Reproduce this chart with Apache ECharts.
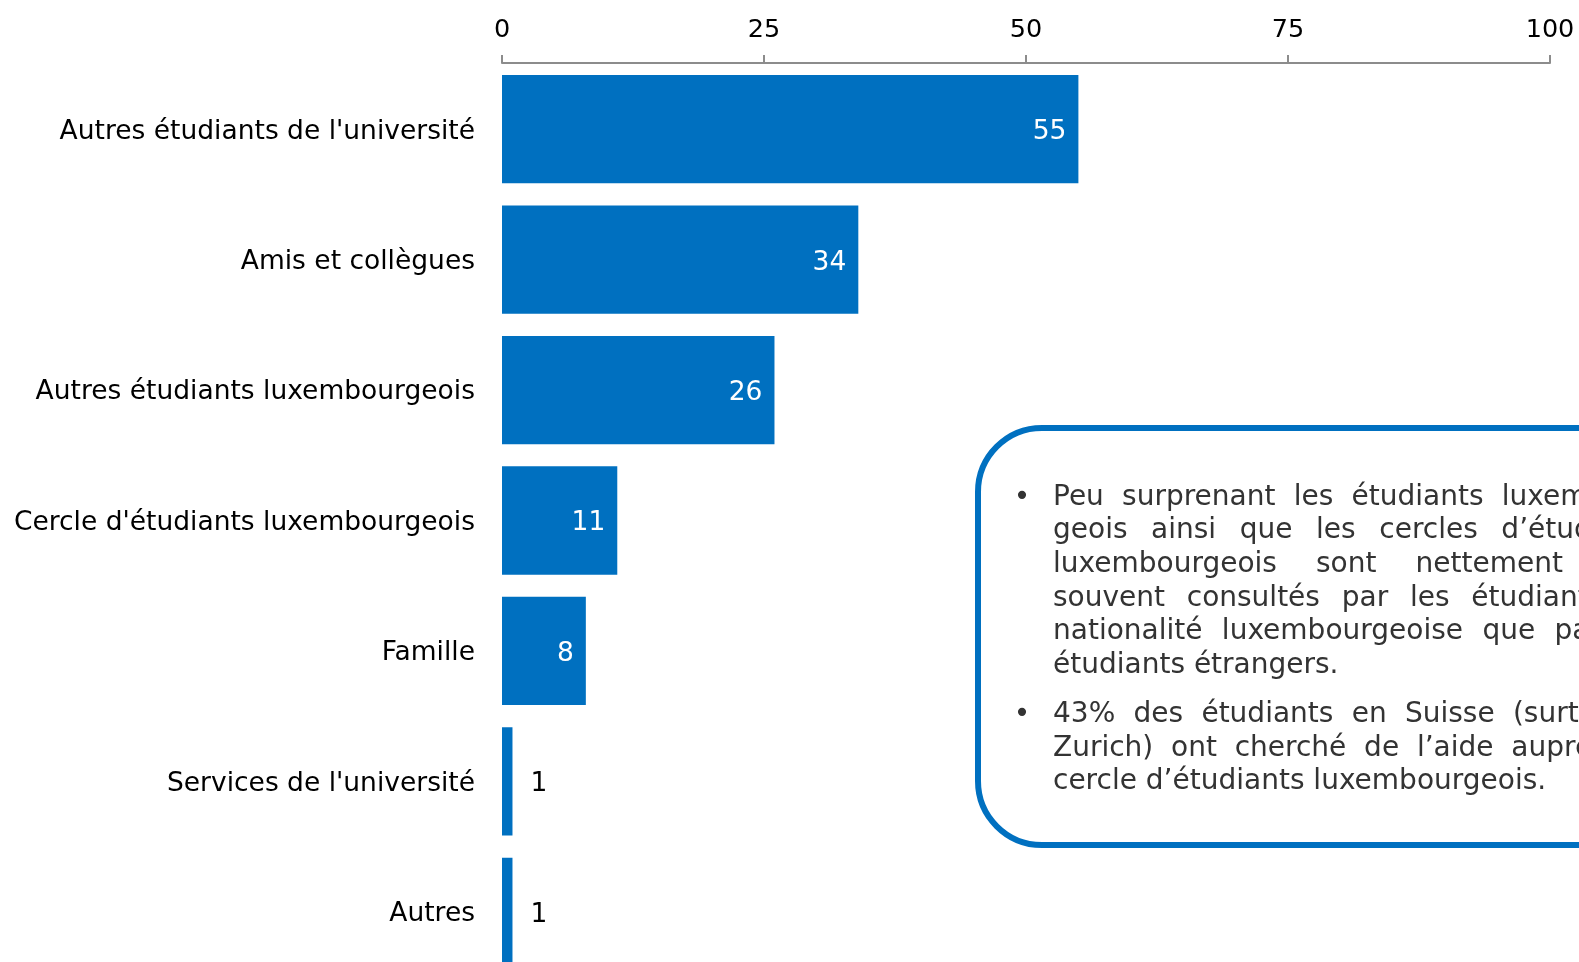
<!DOCTYPE html>
<html>
<head>
<meta charset="utf-8">
<style>
  html, body { margin: 0; padding: 0; background: #fff; }
  #chart { width: 1579px; height: 962px; }
</style>
<script src="https://cdn.jsdelivr.net/npm/echarts@6/dist/echarts.min.js"></script>
</head>
<body>
<div id="chart"></div>
<script>
const categories = [
  "Autres étudiants de l'université",
  'Amis et collègues',
  'Autres étudiants luxembourgeois',
  "Cercle d'étudiants luxembourgeois",
  'Famille',
  "Services de l'université",
  'Autres'
]
const values = [55, 34, 26, 11, 8, 1, 1]
const axisTicks = [0, 25, 50, 75, 100]

// note box, one entry per printed line, last line of each paragraph left as is
const noteParagraphs = [
  [
    'Peu surprenant les étudiants luxembour-',
    'geois ainsi que les cercles d’étudiants',
    'luxembourgeois sont nettement plus',
    'souvent consultés par les étudiants de',
    'nationalité luxembourgeoise que par les',
    'étudiants étrangers.'
  ],
  [
    '43% des étudiants en Suisse (surtout à',
    'Zurich) ont cherché de l’aide auprès du',
    'cercle d’étudiants luxembourgeois.'
  ]
]

const BLUE = '#0070C0'
const FONT = '"DejaVu Sans", Verdana, sans-serif'

const chart = echarts.init(document.getElementById('chart'))

// justified text for the note box
const noteFontSize = 28
const noteLeft = 1053
const noteWidth = 607
const lineGap = 33.6
const paraStarts = [497.5, 715]
const measure = document.createElement('canvas').getContext('2d')
measure.font = noteFontSize + 'px ' + FONT
const spaceW = measure.measureText(' ').width

const noteTexts = []
noteParagraphs.forEach((lines, p) => {
  noteTexts.push({
    type: 'text', x: 1022, y: paraStarts[p], z: 10,
    style: { text: '•', fontSize: noteFontSize, fontFamily: FONT, fill: '#333', align: 'center', verticalAlign: 'middle' }
  })
  lines.forEach((line, i) => {
    const y = paraStarts[p] + i * lineGap
    const words = line.split(' ')
    const widths = words.map(w => measure.measureText(w).width)
    const total = widths.reduce((a, b) => a + b, 0)
    const last = i === lines.length - 1
    const gap = last || words.length < 2 ? spaceW : (noteWidth - total) / (words.length - 1)
    let x = noteLeft
    words.forEach((w, k) => {
      noteTexts.push({
        type: 'text', x: x, y: y, z: 10,
        style: { text: w, fontSize: noteFontSize, fontFamily: FONT, fill: '#333', verticalAlign: 'middle' }
      })
      x += widths[k] + gap
    })
  })
})

const option = {
  animation: false,
  textStyle: { fontFamily: FONT },
  grid: { left: 502, right: 29, top: 64, bottom: -15, containLabel: false, outerBoundsMode: 'none' },
  xAxis: {
    type: 'value',
    position: 'top',
    min: axisTicks[0],
    max: axisTicks[axisTicks.length - 1],
    interval: axisTicks[1] - axisTicks[0],
    offset: 1,
    axisLine: { show: true, lineStyle: { color: '#8c8c8c', width: 2 } },
    axisTick: { show: true, length: 8, lineStyle: { color: '#8c8c8c', width: 2 } },
    splitLine: { show: false },
    axisLabel: { color: '#000', fontSize: 25.5, margin: 20, fontFamily: FONT }
  },
  yAxis: {
    type: 'category',
    inverse: true,
    data: categories,
    axisLine: { show: false },
    axisTick: { show: false },
    axisLabel: {
      color: '#000', fontSize: 26.5, margin: 27, fontFamily: FONT,
      verticalAlign: 'top', lineHeight: 5
    }
  },
  series: [
    {
      type: 'bar',
      barCategoryGap: '17%',
      itemStyle: { color: BLUE },
      data: values.map(v => ({
        value: v,
        label: v < 5
          ? { show: true, position: 'right', distance: 18, color: '#000' }
          : { show: true, position: 'insideRight', distance: 12, color: '#fff' }
      })),
      label: { fontSize: 26.5, fontFamily: FONT, verticalAlign: 'top', lineHeight: 6 }
    }
  ],
  graphic: [
    {
      type: 'rect', z: 5,
      shape: { x: 978, y: 428, width: 760, height: 417, r: 64 },
      style: { fill: '#fff', stroke: BLUE, lineWidth: 6 }
    }
  ].concat(noteTexts)
}

chart.setOption(option)
</script>
</body>
</html>
